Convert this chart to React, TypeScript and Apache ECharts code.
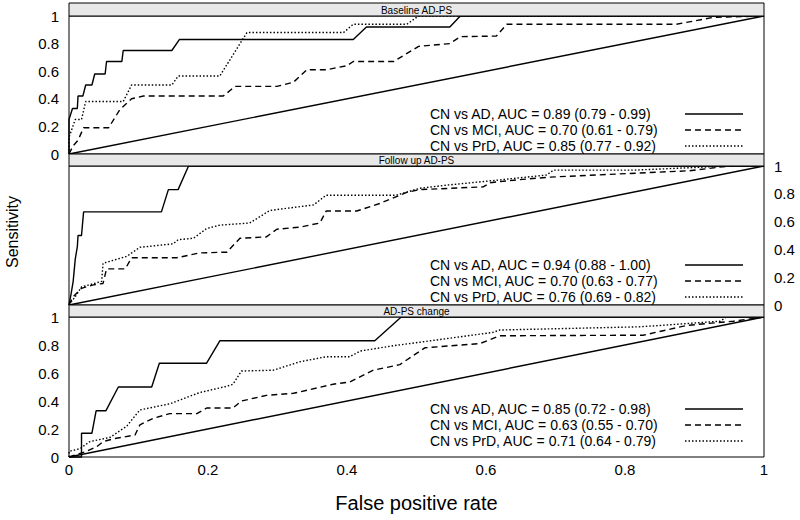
import React, { useEffect, useRef } from "react";
import * as echarts from "echarts";

// ---- Data ----
const panelTitles = ["Baseline AD-PS", "Follow up AD-PS", "AD-PS change"];

const legendLabels = [
  ["CN vs AD, AUC = 0.89 (0.79 - 0.99)", "CN vs MCI, AUC = 0.70 (0.61 - 0.79)", "CN vs PrD, AUC = 0.85 (0.77 - 0.92)"],
  ["CN vs AD, AUC = 0.94 (0.88 - 1.00)", "CN vs MCI, AUC = 0.70 (0.63 - 0.77)", "CN vs PrD, AUC = 0.76 (0.69 - 0.82)"],
  ["CN vs AD, AUC = 0.85 (0.72 - 0.98)", "CN vs MCI, AUC = 0.63 (0.55 - 0.70)", "CN vs PrD, AUC = 0.71 (0.64 - 0.79)"],
];

const chanceLine = [[0, 0], [1, 1]];

const baselineAD = [[0, 0], [0, 0.25], [0.005, 0.33], [0.012, 0.33], [0.013, 0.42], [0.02, 0.42], [0.024, 0.5], [0.033, 0.5], [0.037, 0.58], [0.052, 0.58], [0.054, 0.67], [0.076, 0.67], [0.078, 0.75], [0.148, 0.75], [0.159, 0.83], [0.409, 0.83], [0.428, 0.92], [0.548, 0.92], [0.563, 1], [1, 1]];
const baselineMCI = [[0, 0], [0.006, 0.06], [0.013, 0.1], [0.021, 0.19], [0.057, 0.19], [0.073, 0.32], [0.09, 0.4], [0.107, 0.42], [0.222, 0.42], [0.239, 0.49], [0.299, 0.49], [0.323, 0.52], [0.342, 0.61], [0.37, 0.61], [0.4, 0.64], [0.409, 0.67], [0.467, 0.67], [0.503, 0.78], [0.548, 0.8], [0.563, 0.85], [0.615, 0.855], [0.63, 0.94], [0.874, 0.94], [0.927, 0.99], [1, 1]];
const baselinePrD = [[0, 0], [0, 0.12], [0.009, 0.25], [0.018, 0.25], [0.024, 0.38], [0.078, 0.38], [0.09, 0.5], [0.148, 0.5], [0.157, 0.565], [0.217, 0.565], [0.256, 0.88], [0.395, 0.88], [0.409, 0.94], [0.486, 0.94], [0.503, 1], [1, 1]];

const followAD = [[0, 0], [0.003, 0.08], [0.006, 0.17], [0.009, 0.33], [0.012, 0.42], [0.013, 0.5], [0.018, 0.5], [0.021, 0.67], [0.133, 0.67], [0.143, 0.83], [0.157, 0.83], [0.172, 1], [1, 1]];
const followMCI = [[0, 0], [0.006, 0.06], [0.018, 0.12], [0.035, 0.145], [0.049, 0.155], [0.054, 0.26], [0.081, 0.26], [0.09, 0.34], [0.155, 0.34], [0.188, 0.375], [0.227, 0.38], [0.246, 0.48], [0.284, 0.49], [0.299, 0.545], [0.332, 0.56], [0.361, 0.59], [0.37, 0.676], [0.414, 0.676], [0.447, 0.73], [0.486, 0.81], [0.505, 0.83], [0.596, 0.85], [0.606, 0.88], [0.644, 0.9], [0.692, 0.92], [0.893, 0.966], [0.95, 1], [1, 1]];
const followPrD = [[0, 0], [0.009, 0.06], [0.018, 0.13], [0.047, 0.17], [0.049, 0.3], [0.083, 0.35], [0.102, 0.415], [0.15, 0.44], [0.157, 0.47], [0.179, 0.48], [0.198, 0.55], [0.217, 0.575], [0.26, 0.59], [0.289, 0.68], [0.352, 0.72], [0.37, 0.79], [0.471, 0.79], [0.505, 0.84], [0.539, 0.86], [0.62, 0.9], [0.687, 0.935], [0.697, 0.97], [0.812, 0.97], [0.95, 1], [1, 1]];

const changeAD = [[0, 0], [0.018, 0], [0.018, 0.17], [0.033, 0.17], [0.039, 0.33], [0.053, 0.33], [0.071, 0.5], [0.119, 0.5], [0.13, 0.67], [0.198, 0.67], [0.217, 0.83], [0.44, 0.83], [0.478, 1], [1, 1]];
const changeMCI = [[0, 0], [0.025, 0.04], [0.04, 0.074], [0.049, 0.11], [0.064, 0.13], [0.095, 0.157], [0.102, 0.23], [0.121, 0.276], [0.145, 0.31], [0.184, 0.31], [0.198, 0.35], [0.236, 0.35], [0.248, 0.4], [0.284, 0.44], [0.323, 0.455], [0.38, 0.52], [0.404, 0.536], [0.438, 0.62], [0.476, 0.66], [0.512, 0.78], [0.591, 0.81], [0.62, 0.866], [0.826, 0.87], [0.889, 0.94], [0.956, 0.97], [0.985, 0.99], [1, 1]];
const changePrD = [[0, 0], [0, 0.04], [0.016, 0.06], [0.03, 0.11], [0.059, 0.14], [0.083, 0.22], [0.102, 0.336], [0.145, 0.38], [0.188, 0.46], [0.227, 0.505], [0.236, 0.52], [0.248, 0.614], [0.294, 0.62], [0.332, 0.68], [0.37, 0.716], [0.404, 0.716], [0.419, 0.757], [0.467, 0.795], [0.505, 0.82], [0.61, 0.89], [0.62, 0.907], [0.822, 0.93], [0.937, 0.97], [0.946, 1], [1, 1]];

const panelCurves = [
  [baselineAD, baselineMCI, baselinePrD],
  [followAD, followMCI, followPrD],
  [changeAD, changeMCI, changePrD],
];

// ---- Layout / style ----
const FONT = "Arial, 'Liberation Sans', Helvetica, sans-serif";
const PLOT_LEFT = 69;
const PLOT_W = 695;
const grids = [
  { top: 16, height: 138, stripTop: 3 },
  { top: 166, height: 139, stripTop: 154 },
  { top: 317, height: 140, stripTop: 305 },
];
const legendRowsY = [
  [114, 130, 146],
  [265, 281, 297],
  [409, 425, 441],
];
const dashStyles: any[] = ["solid", [6, 4], [1.5, 2]];
const LW = 1.4;

export default function App() {
  const ref = useRef<HTMLDivElement>(null);

  useEffect(() => {
    if (!ref.current) return;
    const chart = echarts.init(ref.current, null, { renderer: "svg" });

    const gridOpts = grids.map((g) => ({
      left: PLOT_LEFT,
      width: PLOT_W,
      top: g.top,
      height: g.height,
      show: true,
      borderColor: "#000",
      borderWidth: 1,
      backgroundColor: "transparent",
      containLabel: false,
    }));

    const xAxes = grids.map((_, i) => ({
      type: "value",
      gridIndex: i,
      min: 0,
      max: 1,
      interval: 0.2,
      show: i === 2,
      axisLine: { show: false },
      axisTick: { show: false },
      splitLine: { show: false },
      axisLabel: { fontSize: 15, fontFamily: FONT, color: "#000", margin: 5 },
    }));

    const yAxes = grids.map((_, i) => ({
      type: "value",
      gridIndex: i,
      min: 0,
      max: 1,
      interval: 0.2,
      position: i === 1 ? "right" : "left",
      axisLine: { show: false },
      axisTick: { show: false },
      splitLine: { show: false },
      axisLabel: { fontSize: 15, fontFamily: FONT, color: "#000", margin: 10 },
    }));

    const series: any[] = [];
    panelCurves.forEach((curves, p) => {
      series.push({
        type: "line",
        xAxisIndex: p,
        yAxisIndex: p,
        data: chanceLine,
        showSymbol: false,
        symbol: "none",
        silent: true,
        lineStyle: { color: "#000", width: LW, type: "solid" },
      });
      curves.forEach((c, k) => {
        series.push({
          type: "line",
          name: legendLabels[p][k],
          xAxisIndex: p,
          yAxisIndex: p,
          data: c,
          showSymbol: false,
          symbol: "none",
          silent: true,
          clip: false,
          lineStyle: { color: "#000", width: LW, type: dashStyles[k] },
        });
      });
    });

    const graphic: any[] = [];
    grids.forEach((g, p) => {
      graphic.push({
        type: "rect",
        shape: { x: PLOT_LEFT, y: g.stripTop, width: PLOT_W, height: g.top - g.stripTop },
        style: { fill: "#e8e8e8", stroke: "#000", lineWidth: 1 },
        z: 10,
      });
      graphic.push({
        type: "text",
        x: PLOT_LEFT + PLOT_W / 2,
        y: (g.stripTop + g.top) / 2 + 0.5,
        style: { text: panelTitles[p], fontSize: 10, fontFamily: FONT, fill: "#000", align: "center", verticalAlign: "middle" },
        z: 11,
      });
      legendLabels[p].forEach((lbl, k) => {
        const y = legendRowsY[p][k];
        graphic.push({
          type: "text",
          x: 430,
          y,
          style: { text: lbl, fontSize: 14, fontFamily: FONT, fill: "#000", align: "left", verticalAlign: "middle" },
          z: 11,
        });
        graphic.push({
          type: "line",
          shape: { x1: 685, y1: y, x2: 743, y2: y },
          style: { stroke: "#000", lineWidth: LW, lineDash: k === 0 ? null : dashStyles[k] },
          z: 11,
        });
      });
    });
    graphic.push({
      type: "text",
      x: PLOT_LEFT + PLOT_W / 2,
      y: 503,
      style: { text: "False positive rate", fontSize: 20, fontFamily: FONT, fill: "#000", align: "center", verticalAlign: "middle" },
    });
    graphic.push({
      type: "text",
      x: 12,
      y: 232,
      rotation: Math.PI / 2,
      style: { text: "Sensitivity", fontSize: 16, fontFamily: FONT, fill: "#000", align: "center", verticalAlign: "middle" },
    });

    chart.setOption({
      animation: false,
      backgroundColor: "#fff",
      grid: gridOpts,
      xAxis: xAxes,
      yAxis: yAxes,
      series,
      graphic,
    });

    return () => chart.dispose();
  }, []);

  return (
    <div
      ref={ref}
      style={{ position: "fixed", left: 0, top: 0, width: 800, height: 520 }}
    />
  );
}
